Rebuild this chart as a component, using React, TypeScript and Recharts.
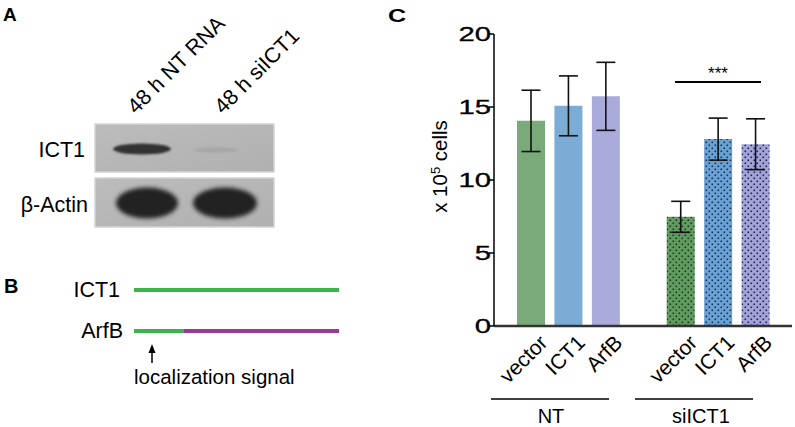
import React from 'react';
import { BarChart, Bar, XAxis, YAxis, ErrorBar, Cell } from 'recharts';

const categories = ['NT-vector', 'NT-ICT1', 'NT-ArfB', 'gap', 'si-vector', 'si-ICT1', 'si-ArfB'];
const tickLabels = ['vector', 'ICT1', 'ArfB', '', 'vector', 'ICT1', 'ArfB'];
const means: (number | null)[] = [14.05, 15.08, 15.73, null, 7.48, 12.8, 12.45];
const errors: (number | null)[] = [2.1, 2.05, 2.33, null, 1.06, 1.44, 1.74];
const yTicks = [0, 5, 10, 15, 20];
const groupLabels = ['NT', 'siICT1'];

const barFills = ['#7aaa7a', '#7bacd6', '#aaaadb', 'none', 'url(#dotG)', 'url(#dotB)', 'url(#dotP)'];

const data = categories.map((key, i) => ({
  key,
  label: tickLabels[i],
  value: means[i],
  err: errors[i],
}));

const FONT = '"Liberation Sans", Arial, Helvetica, sans-serif';

const YTick = (props: any) => {
  const { x, y, payload } = props;
  return (
    <g transform={`translate(${x + 2},${y})`}>
      <text
        transform="scale(1.5,1)"
        textAnchor="end"
        dominantBaseline="central"
        fontSize={19.5}
        fontFamily={FONT}
        fill="#000"
        stroke="#000"
        strokeWidth={0.3}
      >
        {payload.value}
      </text>
    </g>
  );
};

const XTick = (props: any) => {
  const { x, y, index } = props;
  const label = tickLabels[index];
  if (!label) return null;
  const px = x + 18;
  const py = y + 18;
  return (
    <text
      x={px}
      y={py}
      transform={`rotate(-45, ${px}, ${py})`}
      textAnchor="end"
      fontSize={21}
      fontFamily={FONT}
      fill="#000"
    >
      {label}
    </text>
  );
};

function Pattern({ id, base, dot }: { id: string; base: string; dot: string }) {
  return (
    <pattern id={id} patternUnits="userSpaceOnUse" width={6} height={6}>
      <rect x={0} y={0} width={6} height={6} fill={base} />
      <rect x={0.5} y={0.5} width={1.6} height={1.6} fill={dot} />
      <rect x={3.5} y={3.5} width={1.6} height={1.6} fill={dot} />
    </pattern>
  );
}

export default function App() {
  return (
    <div style={{ position: 'absolute', left: 0, top: 0, width: 795, height: 427, background: '#fff', fontFamily: FONT }}>
      <svg width={0} height={0} style={{ position: 'absolute' }}>
        <defs>
          <Pattern id="dotG" base="#609c60" dot="#1c3a1c" />
          <Pattern id="dotB" base="#6aa2d4" dot="#15335a" />
          <Pattern id="dotP" base="#a3a3d8" dot="#24245a" />
          <filter id="blur2" x="-50%" y="-50%" width="200%" height="200%">
            <feGaussianBlur stdDeviation={2} />
          </filter>
          <filter id="blur1" x="-50%" y="-50%" width="200%" height="200%">
            <feGaussianBlur stdDeviation={1.3} />
          </filter>
          <linearGradient id="blotBg" x1="0" y1="0" x2="1" y2="1">
            <stop offset="0" stopColor="#bcbcbc" />
            <stop offset="1" stopColor="#b0b0b0" />
          </linearGradient>
        </defs>
      </svg>
      <div style={{ position: 'absolute', left: 0, top: 0 }}>
        <BarChart
          width={795}
          height={427}
          data={data}
          margin={{ top: 34, right: 3, left: 434, bottom: 71 }}
          barCategoryGap={0}
        >
          <XAxis
            dataKey="key"
            type="category"
            height={30}
            padding={{ left: 18, right: 18 }}
            axisLine={{ stroke: '#333', strokeWidth: 2.5 }}
            tickLine={false}
            tickSize={0}
            tickMargin={0}
            tick={<XTick />}
            interval={0}
          />
          <YAxis
            width={60}
            domain={[0, 20]}
            ticks={yTicks}
            interval={0}
            axisLine={{ stroke: '#000', strokeWidth: 1.5 }}
            tickLine={{ stroke: '#000', strokeWidth: 1.5 }}
            tickSize={5}
            tickMargin={0}
            tick={<YTick />}
          />
          <Bar dataKey="value" barSize={28} isAnimationActive={false}>
            {data.map((d, i) => (
              <Cell key={d.key} fill={barFills[i]} />
            ))}
            <ErrorBar dataKey="err" width={9.5} stroke="#111" strokeWidth={1.6} direction="y" />
          </Bar>
        </BarChart>
      </div>
      <svg width={795} height={427} style={{ position: 'absolute', left: 0, top: 0, pointerEvents: 'none' }}>
        {/* Panel letters */}
        <text x={3} y={21} fontSize={19} fontWeight="bold" fontFamily={FONT}>A</text>
        <text x={4} y={293} fontSize={20} fontWeight="bold" fontFamily={FONT}>B</text>
        <g transform="translate(388,22) scale(1.4,1)">
          <text x={0} y={0} fontSize={18} fontWeight="bold" fontFamily={FONT}>C</text>
        </g>

        {/* Panel A: blot */}
        <text x={136} y={115} transform="rotate(-45,136,115)" fontSize={21.5} fontFamily={FONT}>48 h NT RNA</text>
        <text x={223} y={115} transform="rotate(-45,223,115)" fontSize={21.5} fontFamily={FONT}>48 h siICT1</text>
        <text x={85} y={157} textAnchor="end" fontSize={21.5} fontFamily={FONT}>ICT1</text>
        <text x={88} y={212} textAnchor="end" fontSize={21.5} fontFamily={FONT}>β-Actin</text>
        <rect x={95} y={124} width={179} height={48} fill="url(#blotBg)" stroke="#d4d4d4" strokeWidth={1.5} />
        <rect x={95} y={178} width={179} height={49} fill="url(#blotBg)" stroke="#d4d4d4" strokeWidth={1.5} />
        <ellipse cx={142} cy={149} rx={29} ry={5.5} fill="#303030" filter="url(#blur1)" />
        <ellipse cx={216} cy={150} rx={22} ry={2.5} fill="#a6a6a6" filter="url(#blur1)" />
        <ellipse cx={147} cy={203} rx={31} ry={15.5} fill="#222" filter="url(#blur2)" />
        <ellipse cx={225} cy={203} rx={32} ry={15.5} fill="#222" filter="url(#blur2)" />

        {/* Panel B */}
        <text x={120} y={297} textAnchor="end" fontSize={21.5} fontFamily={FONT}>ICT1</text>
        <text x={123} y={338} textAnchor="end" fontSize={21.5} fontFamily={FONT}>ArfB</text>
        <line x1={134} y1={290} x2={339} y2={290} stroke="#3db34c" strokeWidth={4} />
        <line x1={134} y1={331} x2={184} y2={331} stroke="#3db34c" strokeWidth={4} />
        <line x1={184} y1={331} x2={339} y2={331} stroke="#9b3a97" strokeWidth={4} />
        <line x1={152} y1={351} x2={152} y2={363} stroke="#000" strokeWidth={1.5} />
        <polygon points="152,344 148.5,353 155.5,353" fill="#000" />
        <text x={134} y={384} fontSize={20.5} fontFamily={FONT}>localization signal</text>

        {/* Panel C annotations */}
        <text x={447} y={166.5} transform="rotate(-90,447,166.5)" textAnchor="middle" fontSize={20.5} fontFamily={FONT}>
          x 10<tspan dy={-7} fontSize={13}>5</tspan><tspan dy={7}> cells</tspan>
        </text>
        <line x1={675} y1={82} x2={761} y2={82} stroke="#000" strokeWidth={2} />
        <text x={718} y={79} textAnchor="middle" fontSize={17} fontFamily={FONT}>***</text>
        <line x1={491} y1={399} x2={609} y2={399} stroke="#000" strokeWidth={1.5} />
        <line x1={635} y1={399} x2={753} y2={399} stroke="#000" strokeWidth={1.5} />
        <text x={551} y={423} textAnchor="middle" fontSize={20} fontFamily={FONT}>{groupLabels[0]}</text>
        <text x={701} y={423} textAnchor="middle" fontSize={20} fontFamily={FONT}>{groupLabels[1]}</text>
      </svg>
    </div>
  );
}
